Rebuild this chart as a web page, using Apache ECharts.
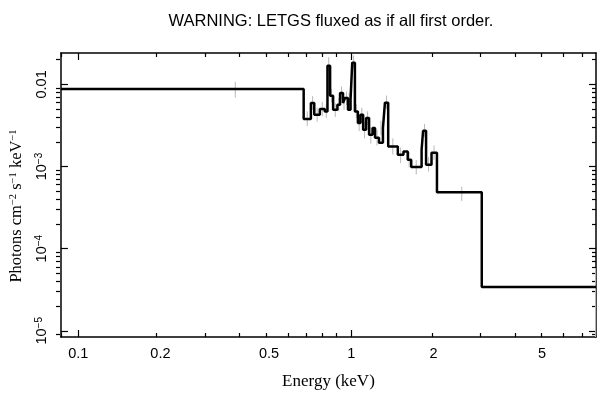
<!DOCTYPE html>
<html>
<head>
<meta charset="utf-8">
<script src="https://cdn.jsdelivr.net/npm/echarts@6/dist/echarts.min.js"></script>
<style>
  html, body { margin: 0; padding: 0; background: #fff; }
  #chart { width: 609px; height: 399px; }
</style>
</head>
<body>
<div id="chart"></div>
<script>
// bin edges (keV) and flux per bin (photons cm-2 s-1 keV-1)
const edges = [0.0864, 0.6695, 0.7115, 0.7322, 0.7673, 0.800, 0.8183, 0.8367, 0.8582, 0.8897,
  0.910, 0.933, 0.9487, 0.9728, 0.9942, 1.0084, 1.0314, 1.0576, 1.0808, 1.1055,
  1.1336, 1.1624, 1.1969, 1.2222, 1.2637, 1.3066, 1.3287, 1.3657, 1.4812, 1.5534,
  1.6102, 1.658, 1.8103, 1.8332, 1.8797, 1.9681, 2.0606, 3.0069, 7.88];
const flux = [0.00879, 0.003785, 0.005931, 0.004271, 0.005012, 0.004686, 0.0169, 0.007281, 0.004914, 0.005655,
  0.007855, 0.005931, 0.006826, 0.004914, 0.006509, 0.01839, 0.004686, 0.003383, 0.004271, 0.002803,
  0.003893, 0.002435, 0.002939, 0.002239, 0.001946, 0.002939, 0.00598, 0.001754, 0.001389, 0.001524,
  0.001207, 0.000983, 0.001599, 0.002725, 0.001049, 0.001469, 0.000487, 0.0000341];

// error bars (grey)
const errE = [0.376, 0.69, 0.722, 0.75, 0.783, 0.81, 0.827, 0.847, 0.874, 0.90, 0.921, 0.941, 0.961, 0.983,
  1.02, 1.044, 1.069, 1.093, 1.119, 1.148, 1.18, 1.243, 1.285, 1.347, 1.42, 1.517, 1.63, 1.73, 1.856, 1.92, 2.01, 2.54, 7.85];
const errLo = [0.0069, 0.0031, 0.0049, 0.0035, 0.0041, 0.0039, 0.0145, 0.0060, 0.0040, 0.0047, 0.0066, 0.0049, 0.0056, 0.0054,
  0.0155, 0.0039, 0.0027, 0.0035, 0.0022, 0.0032, 0.0019, 0.0018, 0.0024, 0.0050, 0.0014, 0.0011, 0.00098, 0.0008, 0.0023, 0.00087, 0.0012, 0.00038, 0.000005];
const errHi = [0.0108, 0.0047, 0.0072, 0.0052, 0.0061, 0.0057, 0.0214, 0.0088, 0.0059, 0.0068, 0.0094, 0.0072, 0.0082, 0.0079,
  0.0225, 0.0057, 0.0042, 0.0052, 0.0035, 0.0047, 0.0030, 0.0028, 0.0036, 0.0073, 0.0022, 0.0017, 0.0015, 0.0012, 0.0033, 0.0013, 0.0018, 0.00057, 0.000058];

// ticks
const xLabels = [0.1, 0.2, 0.5, 1, 2, 5];
const xMajor = [0.1, 1];
const xMinor = [0.09, 0.2, 0.3, 0.4, 0.5, 0.6, 0.7, 0.8, 0.9, 2, 3, 4, 5, 6, 7];
const yLabels = [0.00001, 0.0001, 0.001, 0.01];
const yMajor = [0.00001, 0.0001, 0.001, 0.01];
const yMinor = [0.000009,
  0.00002, 0.00003, 0.00004, 0.00005, 0.00006, 0.00007, 0.00008, 0.00009,
  0.0002, 0.0003, 0.0004, 0.0005, 0.0006, 0.0007, 0.0008, 0.0009,
  0.002, 0.003, 0.004, 0.005, 0.006, 0.007, 0.008, 0.009, 0.02];

const xMin = 0.0864, xMax = 7.88;
const yMin = 8.4e-6, yMax = 0.0241;

const sansFont = '"Liberation Sans", Arial, sans-serif';
const serifFont = '"Liberation Serif", "Times New Roman", serif';

const steps = edges.map((e, i) => [e, flux[Math.min(i, flux.length - 1)]]);
const errData = errE.map((e, i) => [e, errLo[i], errHi[i]]);

function axis(dim, gridIndex, position, ticks, len, showLine, extra) {
  return Object.assign({
    type: 'log',
    logBase: 10,
    gridIndex: gridIndex,
    position: position,
    min: dim === 'x' ? xMin : yMin,
    max: dim === 'x' ? xMax : yMax,
    axisLine: { show: showLine, lineStyle: { color: '#000', width: 1.5 } },
    axisTick: { show: true, inside: true, length: len, customValues: ticks, lineStyle: { color: '#000', width: 1.2 } },
    axisLabel: { show: false },
    splitLine: { show: false }
  }, extra || {});
}

const chart = echarts.init(document.getElementById('chart'));
chart.setOption({
  animation: false,
  backgroundColor: '#fff',
  title: {
    text: 'WARNING: LETGS fluxed as if all first order.',
    left: 326,
    top: 8,
    textAlign: 'center',
    textStyle: { fontFamily: sansFont, fontSize: 16.5, fontWeight: 'normal', color: '#000' }
  },
  grid: [
    { left: 56, right: 13, top: 53, bottom: 62 },
    { left: 56, right: 13, top: 53, bottom: 62 }
  ],
  xAxis: [
    axis('x', 0, 'bottom', xMajor, 7, true, {
      name: 'Energy (keV)',
      nameLocation: 'middle',
      nameGap: 36,
      nameTextStyle: { fontFamily: serifFont, fontSize: 17, color: '#000' },
      axisLabel: {
        show: true, margin: 9, customValues: xLabels,
        fontFamily: sansFont, fontSize: 14.5, color: '#000',
        formatter: v => String(+v.toPrecision(3))
      }
    }),
    axis('x', 0, 'top', xMajor, 7, true),
    axis('x', 1, 'bottom', xMinor, 4, false),
    axis('x', 1, 'top', xMinor, 4, false)
  ],
  yAxis: [
    axis('y', 0, 'left', yMajor, 7, true, {
      name: 'Photons cm{s|−2} s{s|−1} keV{s|−1}',
      nameLocation: 'middle',
      nameGap: 31,
      nameRotate: 90,
      nameTextStyle: {
        fontFamily: serifFont, fontSize: 16.5, color: '#000', lineHeight: 18,
        padding: [0, 22, 0, 0],
        rich: { s: { fontFamily: serifFont, fontSize: 10.5, lineHeight: 10, verticalAlign: 'top', color: '#000' } }
      },
      axisLabel: {
        show: true, rotate: 90, margin: 11, customValues: yLabels,
        fontFamily: sansFont, fontSize: 14.5, color: '#000', lineHeight: 16,
        formatter: v => {
          if (v >= 0.005) return '0.01';
          const p = Math.round(Math.log10(v));
          return '10{s|−' + (-p) + '}';
        },
        rich: { s: { fontFamily: sansFont, fontSize: 10, lineHeight: 10, verticalAlign: 'top', color: '#000' } }
      }
    }),
    axis('y', 0, 'right', yMajor, 7, true),
    axis('y', 1, 'left', yMinor, 4, false),
    axis('y', 1, 'right', yMinor, 4, false)
  ],
  series: [
    {
      type: 'custom',
      xAxisIndex: 0,
      yAxisIndex: 0,
      clip: true,
      data: errData,
      renderItem: (params, api) => {
        const p1 = api.coord([api.value(0), api.value(1)]);
        const p2 = api.coord([api.value(0), api.value(2)]);
        return {
          type: 'line',
          shape: { x1: p1[0], y1: p1[1], x2: p2[0], y2: p2[1] },
          style: { stroke: '#b8b8b8', lineWidth: 1 }
        };
      },
      z: 1
    },
    {
      type: 'line',
      xAxisIndex: 0,
      yAxisIndex: 0,
      step: 'end',
      data: steps,
      symbol: 'none',
      clip: true,
      lineStyle: { color: '#000', width: 2.5 },
      z: 2
    }
  ]
});
</script>
</body>
</html>
